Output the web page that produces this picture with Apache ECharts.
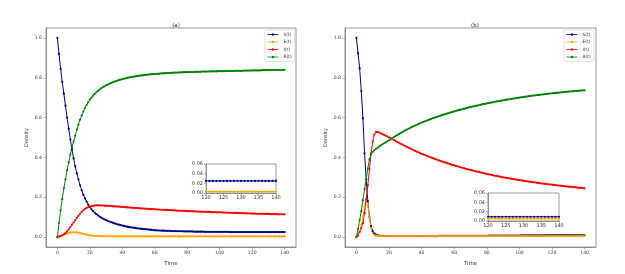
<!DOCTYPE html>
<html><head><meta charset="utf-8">
<script src="https://cdn.jsdelivr.net/npm/echarts@6/dist/echarts.min.js"></script>
<style>html,body{margin:0;padding:0;background:#fff}#c{width:625px;height:274px}</style>
</head><body><div id="c"></div>
<script>
// ---- Data (t = 0..140, step 1) ----
const S_a = [1.0,.92,.845,.78,.72,.66,.60,.545,.49,.44,.395,.355,.32,.29,.26,.235,.213,.194,.178,.163,.15,
.139,.13,.122,.115,.109,.103,.098,.093,.089,.085,.081,.078,.075,.072,.069,.067,.064,.062,.06,.058,
.056,.054,.052,.051,.049,.048,.047,.046,.044,.043,.042,.041,.04,.04,.039,.038,.037,.036,.035,.034,
.034,.033,.033,.032,.032,.032,.031,.031,.031,.03,.03,.03,.03,.029,.029,.029,.029,.028,.028,.028,
.028,.028,.028,.027,.027,.027,.027,.027,.027,.027,.026,.026,.026,.026,.026,.026,.026,.026,.026,.026,
.026,.026,.026,.026,.026,.025,.025,.025,.025,.025,.025,.025,.025,.025,.025,.025,.025,.025,.025,.025,
.025,.025,.025,.025,.025,.025,.025,.025,.025,.025,.025,.025,.025,.025,.025,.025,.025,.025,.025,.025];
const E_a = [0,.003,.006,.009,.012,.015,.018,.02,.022,.023,.024,.024,.023,.022,.02,.018,.016,.014,.012,.011,.009,
.008,.007,.006,.006,.005,.005,.005,.004,.004,.004,.004,.004,.004,.003,.003,.003,.003,.003,.003,.003,
.003,.003,.003,.003,.003,.003,.003,.003,.003,.003,.003,.003,.003,.003,.003,.003,.003,.003,.003,.003,
.003,.003,.003,.003,.003,.003,.003,.003,.003,.003,.003,.003,.003,.003,.003,.003,.003,.003,.003,.003,
.003,.003,.003,.003,.003,.003,.003,.003,.003,.003,.003,.003,.003,.003,.003,.003,.003,.003,.003,.003,
.003,.003,.003,.003,.003,.003,.003,.003,.003,.003,.003,.003,.003,.003,.003,.003,.003,.003,.003,.003,
.003,.003,.003,.003,.003,.003,.003,.003,.003,.003,.003,.003,.003,.003,.003,.003,.003,.003,.003,.003];
const I_a = [0,.002,.005,.009,.014,.02,.028,.038,.05,.062,.073,.085,.096,.107,.117,.126,.134,.141,.146,.15,.153,
.155,.157,.158,.159,.159,.159,.159,.158,.158,.157,.157,.156,.156,.155,.154,.154,.153,.153,.152,.151,
.151,.15,.149,.149,.148,.147,.147,.146,.146,.145,.144,.144,.143,.143,.142,.141,.141,.14,.14,.139,
.139,.138,.138,.137,.137,.136,.136,.136,.135,.134,.134,.134,.133,.133,.132,.132,.132,.131,.131,.13,
.13,.13,.129,.129,.129,.128,.128,.128,.127,.127,.127,.126,.126,.126,.125,.125,.125,.124,.124,.124,
.124,.123,.123,.123,.122,.122,.122,.122,.121,.121,.121,.12,.12,.12,.12,.119,.119,.119,.118,.118,
.118,.118,.117,.117,.117,.117,.116,.116,.116,.116,.115,.115,.115,.115,.115,.114,.114,.114,.114,.114];
const R_a = [0,.07,.135,.19,.245,.29,.335,.375,.415,.45,.48,.51,.54,.565,.59,.61,.63,.648,.663,.677,.69,
.70,.71,.719,.727,.734,.741,.747,.752,.757,.762,.766,.77,.774,.777,.78,.783,.786,.789,.791,.793,
.795,.797,.799,.801,.803,.804,.806,.807,.808,.81,.811,.812,.813,.814,.815,.816,.817,.818,.818,.819,
.82,.82,.821,.822,.822,.823,.823,.824,.824,.825,.825,.826,.826,.826,.827,.827,.827,.828,.828,.828,
.829,.829,.829,.829,.83,.83,.83,.83,.831,.831,.831,.831,.831,.832,.832,.832,.832,.832,.833,.833,
.833,.833,.833,.834,.834,.834,.834,.834,.835,.835,.835,.835,.835,.835,.836,.836,.836,.836,.836,.837,
.837,.837,.837,.837,.837,.838,.838,.838,.838,.838,.838,.839,.839,.839,.839,.839,.839,.84,.84,.84];

const S_b = [1.0,.923,.847,.733,.596,.42,.29,.18,.1,.055,.03,.018,.012,.009,.007,.006,.006,.005,.005,.005,.005,
.005,.005,.005,.005,.005,.005,.005,.005,.005,.005,.005,.005,.005,.005,.005,.005,.005,.005,.005,.005,
.005,.005,.005,.005,.005,.005,.005,.005,.005,.005,.006,.006,.006,.006,.006,.006,.006,.006,.006,.006,
.006,.006,.006,.006,.006,.006,.006,.006,.006,.006,.006,.006,.006,.006,.006,.006,.006,.006,.006,.006,
.007,.007,.007,.007,.007,.007,.007,.007,.007,.007,.007,.007,.007,.007,.007,.007,.007,.007,.007,.007,
.008,.008,.008,.008,.008,.008,.008,.008,.008,.008,.008,.008,.008,.008,.008,.009,.009,.009,.009,.009,
.009,.009,.009,.009,.009,.009,.009,.009,.009,.009,.009,.009,.009,.009,.009,.009,.009,.009,.009,.009];
const E_b = [0,.01,.03,.06,.1,.15,.19,.16,.1,.045,.02,.01,.007,.006,.005,.005,.005,.005,.005,.005,.005,
.005,.005,.005,.005,.005,.005,.005,.005,.005,.005,.005,.005,.005,.005,.005,.005,.005,.005,.005,.005,
.005,.005,.005,.005,.005,.005,.005,.005,.005,.005,.005,.005,.005,.005,.005,.005,.005,.005,.005,.005,
.005,.005,.005,.005,.005,.005,.005,.005,.005,.005,.005,.005,.005,.005,.005,.005,.005,.005,.005,.005,
.005,.005,.005,.005,.005,.005,.005,.005,.005,.005,.005,.005,.005,.005,.005,.005,.005,.005,.005,.005,
.005,.005,.005,.005,.005,.005,.005,.005,.005,.005,.005,.005,.005,.005,.005,.005,.005,.005,.005,.005,
.005,.005,.005,.005,.005,.005,.005,.005,.005,.005,.005,.005,.005,.005,.005,.005,.005,.005,.005,.005];
const I_b = [0,.008,.025,.045,.07,.12,.19,.26,.34,.42,.48,.515,.527,.528,.525,.521,.517,.513,.509,.505,.501,
.497,.492,.487,.483,.478,.474,.469,.465,.461,.457,.453,.449,.445,.441,.437,.433,.429,.426,.422,.418,
.415,.412,.408,.405,.402,.399,.396,.393,.39,.387,.384,.381,.378,.376,.373,.37,.368,.365,.362,.36,
.357,.355,.353,.35,.348,.346,.343,.341,.339,.337,.335,.333,.331,.329,.327,.325,.323,.321,.319,.317,
.315,.314,.312,.31,.308,.307,.305,.303,.302,.3,.299,.297,.296,.294,.293,.291,.29,.289,.287,.286,
.285,.283,.282,.281,.28,.278,.277,.276,.275,.274,.272,.271,.27,.269,.268,.267,.266,.265,.264,.263,
.262,.261,.26,.259,.258,.257,.256,.255,.254,.253,.252,.252,.251,.25,.249,.248,.247,.247,.246,.245];
const R_b = [0,.04,.085,.13,.185,.24,.29,.345,.39,.415,.428,.436,.443,.449,.455,.461,.466,.471,.476,.481,.486,
.491,.497,.502,.507,.512,.517,.522,.526,.531,.536,.54,.544,.548,.553,.556,.56,.564,.568,.571,.574,
.578,.581,.584,.587,.591,.594,.597,.6,.602,.605,.608,.611,.614,.616,.619,.621,.624,.626,.629,.631,
.633,.636,.638,.64,.642,.644,.646,.649,.651,.653,.655,.657,.658,.66,.662,.664,.666,.668,.669,.671,
.673,.674,.676,.677,.679,.681,.682,.684,.685,.687,.688,.69,.691,.692,.694,.695,.696,.698,.699,.7,
.702,.703,.704,.705,.706,.708,.709,.71,.711,.712,.713,.714,.715,.716,.717,.718,.719,.72,.721,.722,
.723,.724,.724,.725,.726,.727,.728,.729,.729,.73,.731,.732,.732,.733,.734,.734,.735,.736,.737,.737];

const names = ['S(t)','E(t)','I(t)','R(t)'];
const colors = ['#00008b','#ffa500','#ff0000','#008000'];
const xTicks = [0,20,40,60,80,100,120,140];
const yTicks = [0,0.2,0.4,0.6,0.8,1.0];
const insetStart = 120;
const titles = ['(a)','(b)'];

function pairs(arr, start){ const out=[]; for(let i=start;i<arr.length;i++) out.push([i, arr[i]]); return out; }

const FONT = 'DejaVu Sans';
const axisCol = '#808080';
const grids = [
  {left:46, top:28, width:250, height:219},
  {left:345, top:28, width:251, height:219},
  {left:206, top:164, width:70, height:29},
  {left:488, top:193, width:71, height:28}
].map(g=>Object.assign(g,{show:true, borderColor:axisCol, borderWidth:0.8, backgroundColor:'#fff', containLabel:false}));

function mainX(i){ return {type:'value', gridIndex:i, min:-7, max:147,
  name:'Time', nameLocation:'middle', nameGap:12, nameTextStyle:{fontSize:5.5, color:'#333', fontFamily:FONT},
  axisLine:{show:true, onZero:false, lineStyle:{color:axisCol, width:0.8}},
  axisTick:{show:true, customValues:xTicks, length:2.5, lineStyle:{color:axisCol, width:0.6}},
  axisLabel:{customValues:xTicks, fontSize:4.6, color:'#444', margin:3.5, fontFamily:FONT},
  splitLine:{show:false}}; }
function mainY(i){ return {type:'value', gridIndex:i, min:-0.05, max:1.05,
  name:'Density', nameLocation:'middle', nameGap:17, nameTextStyle:{fontSize:5, color:'#333', fontFamily:FONT},
  axisLine:{show:true, onZero:false, lineStyle:{color:axisCol, width:0.8}},
  axisTick:{show:true, customValues:yTicks, length:2.5, lineStyle:{color:axisCol, width:0.6}},
  axisLabel:{customValues:yTicks, fontSize:4.6, color:'#444', margin:4, fontFamily:FONT, formatter:v=>v.toFixed(1)},
  splitLine:{show:false}}; }
function insetX(i){ return {type:'value', gridIndex:i, min:120, max:140, interval:5,
  axisLine:{show:true, onZero:false, lineStyle:{color:axisCol, width:0.8}},
  axisTick:{show:true, length:2, lineStyle:{color:axisCol, width:0.6}},
  axisLabel:{fontSize:5, color:'#333', margin:2.5, fontFamily:FONT, showMinLabel:true, showMaxLabel:true},
  splitLine:{show:false}}; }
function insetY(i){ return {type:'value', gridIndex:i, min:0, max:0.06, interval:0.02,
  axisLine:{show:true, onZero:false, lineStyle:{color:axisCol, width:0.8}},
  axisTick:{show:true, length:2, lineStyle:{color:axisCol, width:0.6}},
  axisLabel:{fontSize:5, color:'#333', margin:3, fontFamily:FONT, formatter:v=>v.toFixed(2)},
  splitLine:{show:false}}; }

function line(name, color, data, ax, sz){ return {type:'line', name:name, xAxisIndex:ax, yAxisIndex:ax,
  data:data, showSymbol:true, showAllSymbol:true, symbol:'circle', symbolSize:sz,
  lineStyle:{color:color, width:1}, itemStyle:{color:color}, emphasis:{disabled:true}, clip:true}; }

const panels = [[S_a,E_a,I_a,R_a],[S_b,E_b,I_b,R_b]];
const series = [];
panels.forEach((p,pi)=>{ p.forEach((arr,k)=>series.push(line(names[k], colors[k], pairs(arr,0), pi, 2.2))); });
panels.forEach((p,pi)=>{ [0,1].forEach(k=>series.push(line(names[k], colors[k], pairs(p[k],insetStart), pi+2, 2.2))); });

function legend(left){ return {left:left, top:30, orient:'vertical', itemWidth:11, itemHeight:3, itemGap:2.5,
  data:names, textStyle:{fontSize:4.5, color:'#333', fontFamily:FONT}, borderColor:'#ccc', borderWidth:0.6,
  lineStyle:{width:0.8}, borderRadius:1.5, padding:[2,3,2,2], backgroundColor:'#fff', selectedMode:false}; }

const chart = echarts.init(document.getElementById('c'), null, {renderer:'canvas'});
chart.setOption({
  animation:false, backgroundColor:'#fff',
  textStyle:{fontFamily:FONT},
  title:[
    {text:titles[0], left:171, top:18, textAlign:'center', textStyle:{fontSize:5.5, fontWeight:'normal', color:'#333', fontFamily:FONT}},
    {text:titles[1], left:470, top:18, textAlign:'center', textStyle:{fontSize:5.5, fontWeight:'normal', color:'#333', fontFamily:FONT}}
  ],
  legend:[legend(265), legend(564)],
  grid:grids,
  xAxis:[mainX(0), mainX(1), insetX(2), insetX(3)],
  yAxis:[mainY(0), mainY(1), insetY(2), insetY(3)],
  series:series
});
</script></body></html>
